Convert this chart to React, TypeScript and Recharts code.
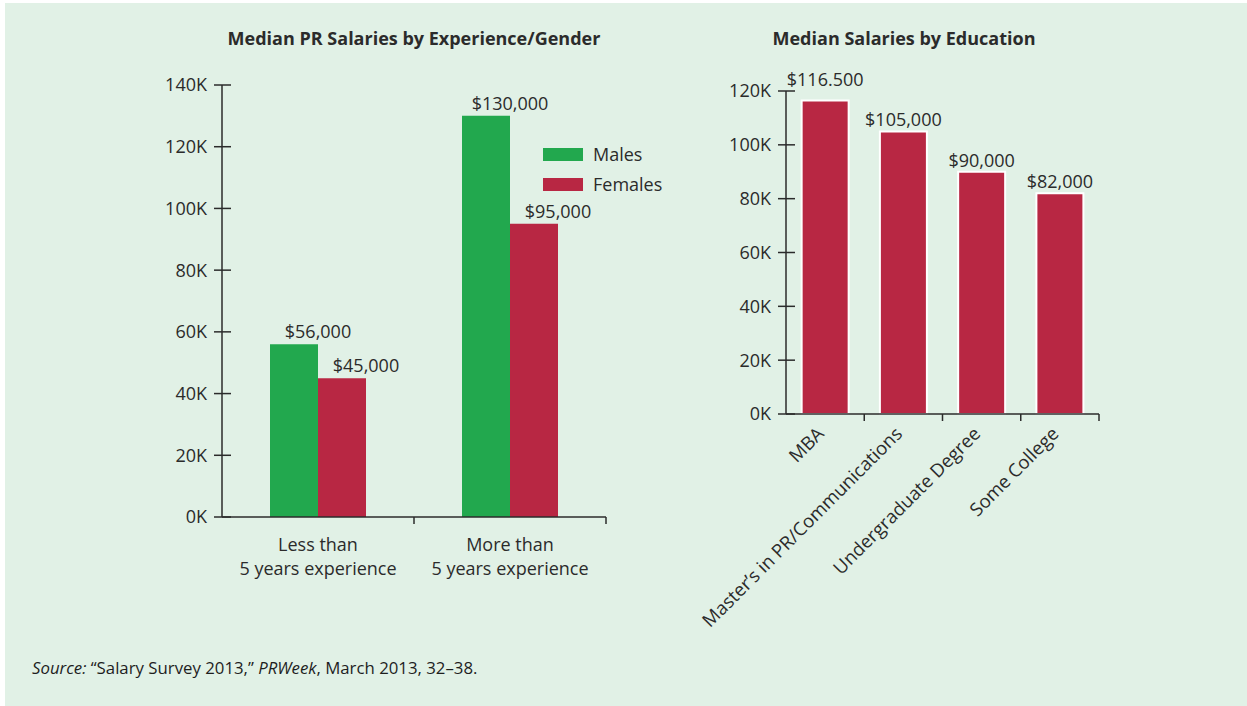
import { BarChart, Bar, XAxis, YAxis, Legend, LabelList } from 'recharts'

// left chart: experience / gender
const experience = ['Less than|5 years experience', 'More than|5 years experience']
const seriesNames = ['Males', 'Females']
const males = [56000, 130000]
const females = [45000, 95000]
const salaryTicks = [0, 20000, 40000, 60000, 80000, 100000, 120000, 140000]

// right chart: education
const education = ['MBA', 'Master’s in PR/Communications', 'Undergraduate Degree', 'Some College']
const eduSalary = [116500, 105000, 90000, 82000]
const eduLabels = ['$116.500', '$105,000', '$90,000', '$82,000']
const eduTicks = [0, 20000, 40000, 60000, 80000, 100000, 120000]

const GREEN = '#22a84e'
const RED = '#b82743'
const INK = '#2b2b2b'
const BG = '#e1f1e6'
const FONT = '"Open Sans", sans-serif'

const expData = experience.map((c, i) => ({ cat: c, Males: males[i], Females: females[i] }))
const eduData = education.map((c, i) => ({ cat: c, value: eduSalary[i], label: eduLabels[i] }))

const fmtK = (v: number) => `${v / 1000}K`
const fmtMoney = (v: number) => '$' + v.toLocaleString('en-US')

function YTick(props: any) {
  const { x, y, payload } = props
  return (
    <g>
      <line x1={x + 7} x2={x + 24} y1={y} y2={y} stroke={INK} strokeWidth={1.5} />
      <text x={x} y={y} dy="0.36em" textAnchor="end" fill={INK} fontSize={18} fontFamily={FONT}>
        {fmtK(payload.value)}
      </text>
    </g>
  )
}

// left chart sizing
const L_W = 640
const L_H = 600
const L_MARGIN = { top: 85, right: 34, left: 0, bottom: 0 }
const L_YW = 222
const L_HALF = (L_W - L_MARGIN.right - L_YW) / experience.length / 2

function ExpTick(props: any) {
  const { x, y, payload } = props
  const [a, b] = String(payload.value).split('|')
  return (
    <g>
      <line x1={x + L_HALF} x2={x + L_HALF} y1={y} y2={y + 7} stroke={INK} strokeWidth={1.5} />
      <text x={x} y={y} textAnchor="middle" fill={INK} fontSize={18} fontFamily={FONT}>
        <tspan x={x} dy={34}>{a}</tspan>
        <tspan x={x} dy={24}>{b}</tspan>
      </text>
    </g>
  )
}

// right chart sizing
const R_LEFT = 660
const R_W = 460
const R_H = 660
const R_MARGIN = { top: 91, right: 21, left: 0, bottom: 0 }
const R_YW = 126
const R_PLOT_BOTTOM = 414
const R_HALF = (R_W - R_MARGIN.right - R_YW) / education.length / 2

function EduTick(props: any) {
  const { x, y, payload } = props
  const tx = x
  const ty = y + 21
  return (
    <g>
      <line x1={x + R_HALF} x2={x + R_HALF} y1={y} y2={y + 7} stroke={INK} strokeWidth={1.5} />
      <text
        x={tx}
        y={ty}
        textAnchor="end"
        fill={INK}
        fontSize={18.5}
        fontFamily={FONT}
        transform={`rotate(-45, ${tx}, ${ty})`}
      >
        {payload.value}
      </text>
    </g>
  )
}

const expLabel = (props: any) => {
  const { x, y, width, value } = props
  return (
    <text x={x + width / 2 + 24} y={y - 6} textAnchor="middle" fill={INK} fontSize={18} fontFamily={FONT}>
      {fmtMoney(value)}
    </text>
  )
}

const eduLabel = (props: any) => {
  const { x, y, width, index } = props
  // the tallest label sits a bit higher, clear of the axis top
  const off = index === 0 ? 14 : 5
  return (
    <text x={x + width / 2} y={y - off} textAnchor="middle" fill={INK} fontSize={18} fontFamily={FONT}>
      {eduLabels[index]}
    </text>
  )
}

const renderLegend = (props: any) => {
  const items = [...(props.payload || [])].sort(
    (a: any, b: any) => seriesNames.indexOf(a.value) - seriesNames.indexOf(b.value),
  )
  return (
    <div style={{ fontFamily: FONT, fontSize: 18, color: INK }}>
      {items.map((p: any) => (
        <div key={p.value} style={{ display: 'flex', alignItems: 'center', height: 30 }}>
          <span style={{ display: 'inline-block', width: 40, height: 13, background: p.color, marginRight: 10 }} />
          <span>{p.value}</span>
        </div>
      ))}
    </div>
  )
}

const titleStyle: React.CSSProperties = {
  position: 'absolute',
  top: 26,
  fontFamily: FONT,
  fontWeight: 700,
  fontSize: 18,
  color: INK,
  textAlign: 'center',
  whiteSpace: 'nowrap',
}

export default function App() {
  return (
    <div style={{ position: 'absolute', left: 0, top: 0, width: 1247, height: 706, background: '#fff', overflow: 'hidden' }}>
      <div style={{ position: 'absolute', left: 5, top: 3, right: 0, bottom: 0, background: BG }} />

      <div style={{ ...titleStyle, left: 164, width: 500 }}>Median PR Salaries by Experience/Gender</div>
      <div style={{ ...titleStyle, left: 704, width: 400 }}>Median Salaries by Education</div>

      <div style={{ position: 'absolute', left: 0, top: 0 }}>
        <BarChart width={L_W} height={L_H} data={expData} margin={L_MARGIN} barCategoryGap="25%" barGap={0}>
          <YAxis
            width={L_YW}
            domain={[0, 140000]}
            ticks={salaryTicks}
            interval={0}
            tickSize={0}
            tickMargin={15}
            tickLine={false}
            tick={<YTick />}
            axisLine={{ stroke: INK, strokeWidth: 1.5 }}
          />
          <XAxis
            dataKey="cat"
            height={L_H - 517}
            tickSize={0}
            tickMargin={0}
            tickLine={false}
            interval={0}
            tick={<ExpTick />}
            axisLine={{ stroke: INK, strokeWidth: 1.5 }}
          />
          <Legend
            layout="vertical"
            align="center"
            verticalAlign="middle"
            content={renderLegend}
            wrapperStyle={{ left: 543, top: 139, width: 'auto' }}
          />
          <Bar dataKey="Males" name="Males" fill={GREEN} isAnimationActive={false}>
            <LabelList dataKey="Males" content={expLabel} />
          </Bar>
          <Bar dataKey="Females" name="Females" fill={RED} isAnimationActive={false}>
            <LabelList dataKey="Females" content={expLabel} />
          </Bar>
        </BarChart>
      </div>

      <div style={{ position: 'absolute', left: R_LEFT, top: 0 }}>
        <BarChart width={R_W} height={R_H} data={eduData} margin={R_MARGIN} barCategoryGap="20%">
          <YAxis
            width={R_YW}
            domain={[0, 120000]}
            ticks={eduTicks}
            interval={0}
            tickSize={0}
            tickMargin={15}
            tickLine={false}
            tick={<YTick />}
            axisLine={{ stroke: INK, strokeWidth: 1.5 }}
          />
          <XAxis
            dataKey="cat"
            height={R_H - R_PLOT_BOTTOM}
            tickSize={0}
            tickMargin={0}
            tickLine={false}
            interval={0}
            tick={<EduTick />}
            axisLine={{ stroke: INK, strokeWidth: 1.5 }}
          />
          <Bar dataKey="value" fill={RED} stroke="#fff" strokeWidth={2} isAnimationActive={false}>
            <LabelList dataKey="value" content={eduLabel} />
          </Bar>
        </BarChart>
      </div>

      <div style={{ position: 'absolute', left: 32, top: 656, fontFamily: FONT, fontSize: 16.8, color: '#1e1e1e', whiteSpace: 'nowrap' }}>
        <i>Source:</i> “Salary Survey 2013,” <i>PRWeek</i>, March 2013, 32–38.
      </div>
    </div>
  )
}
